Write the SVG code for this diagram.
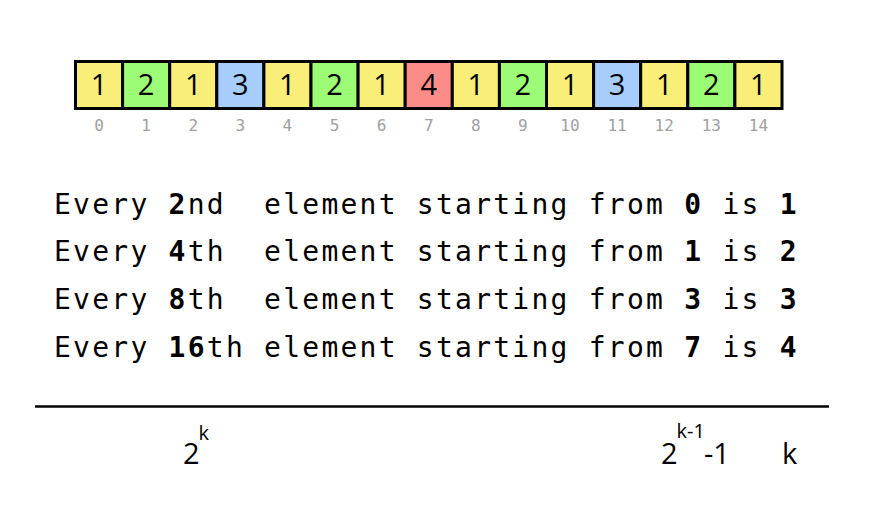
<svg xmlns="http://www.w3.org/2000/svg" width="881" height="519" viewBox="0 0 881 519">
<style>
.c{stroke:#000;stroke-width:3}
.y{fill:#f9ef78}
.g{fill:#9cfc76}
.b{fill:#a6cdfc}
.r{fill:#fc8c8a}
.v{font-family:"Open Sans","Liberation Sans",sans-serif;font-size:29px;text-anchor:middle;fill:#000}
.i{font-family:"DejaVu Sans Mono","Liberation Mono",monospace;font-size:16px;text-anchor:middle;fill:#a0a0a0}
.t{font-family:"DejaVu Sans Mono","Liberation Mono",monospace;font-size:28px;letter-spacing:2.24px;fill:#000;white-space:pre}
.t tspan.bd{font-weight:bold}
.f{font-family:"Open Sans","Liberation Sans",sans-serif;fill:#000}
</style>
<rect width="881" height="519" fill="#fff"/>
<g id="cells">
<g id="cell0"><rect class="c y" x="75.5" y="61.5" width="47.1" height="47"/><text class="v" x="99" y="95">1</text><text class="i" x="99" y="131">0</text></g>
<g id="cell1"><rect class="c g" x="122.6" y="61.5" width="47.1" height="47"/><text class="v" x="146.1" y="95">2</text><text class="i" x="146.1" y="131">1</text></g>
<g id="cell2"><rect class="c y" x="169.7" y="61.5" width="47.1" height="47"/><text class="v" x="193.2" y="95">1</text><text class="i" x="193.2" y="131">2</text></g>
<g id="cell3"><rect class="c b" x="216.8" y="61.5" width="47.1" height="47"/><text class="v" x="240.3" y="95">3</text><text class="i" x="240.3" y="131">3</text></g>
<g id="cell4"><rect class="c y" x="263.9" y="61.5" width="47.1" height="47"/><text class="v" x="287.4" y="95">1</text><text class="i" x="287.4" y="131">4</text></g>
<g id="cell5"><rect class="c g" x="311" y="61.5" width="47.1" height="47"/><text class="v" x="334.5" y="95">2</text><text class="i" x="334.5" y="131">5</text></g>
<g id="cell6"><rect class="c y" x="358.1" y="61.5" width="47.1" height="47"/><text class="v" x="381.6" y="95">1</text><text class="i" x="381.6" y="131">6</text></g>
<g id="cell7"><rect class="c r" x="405.2" y="61.5" width="47.1" height="47"/><text class="v" x="428.7" y="95">4</text><text class="i" x="428.7" y="131">7</text></g>
<g id="cell8"><rect class="c y" x="452.3" y="61.5" width="47.1" height="47"/><text class="v" x="475.8" y="95">1</text><text class="i" x="475.8" y="131">8</text></g>
<g id="cell9"><rect class="c g" x="499.4" y="61.5" width="47.1" height="47"/><text class="v" x="522.9" y="95">2</text><text class="i" x="522.9" y="131">9</text></g>
<g id="cell10"><rect class="c y" x="546.5" y="61.5" width="47.1" height="47"/><text class="v" x="570" y="95">1</text><text class="i" x="570" y="131">10</text></g>
<g id="cell11"><rect class="c b" x="593.6" y="61.5" width="47.1" height="47"/><text class="v" x="617.1" y="95">3</text><text class="i" x="617.1" y="131">11</text></g>
<g id="cell12"><rect class="c y" x="640.7" y="61.5" width="47.1" height="47"/><text class="v" x="664.2" y="95">1</text><text class="i" x="664.2" y="131">12</text></g>
<g id="cell13"><rect class="c g" x="687.8" y="61.5" width="47.1" height="47"/><text class="v" x="711.3" y="95">2</text><text class="i" x="711.3" y="131">13</text></g>
<g id="cell14"><rect class="c y" x="734.9" y="61.5" width="47.1" height="47"/><text class="v" x="758.4" y="95">1</text><text class="i" x="758.4" y="131">14</text></g>
</g>
<g id="connectors"></g>
<g id="lines">
<text class="t" xml:space="preserve" x="54" y="213.5">Every <tspan class="bd">2</tspan>nd  element starting from <tspan class="bd">0</tspan> is <tspan class="bd">1</tspan></text>
<text class="t" xml:space="preserve" x="54" y="261.3">Every <tspan class="bd">4</tspan>th  element starting from <tspan class="bd">1</tspan> is <tspan class="bd">2</tspan></text>
<text class="t" xml:space="preserve" x="54" y="309.1">Every <tspan class="bd">8</tspan>th  element starting from <tspan class="bd">3</tspan> is <tspan class="bd">3</tspan></text>
<text class="t" xml:space="preserve" x="54" y="356.9">Every <tspan class="bd">16</tspan>th element starting from <tspan class="bd">7</tspan> is <tspan class="bd">4</tspan></text>
</g>
<line x1="35" y1="406.5" x2="829" y2="406.5" stroke="#000" stroke-width="2.6"/>
<g id="formulas">
<text class="f" x="183" y="464" font-size="29">2</text>
<text class="f" x="198.5" y="440" font-size="20">k</text>
<text class="f" x="661" y="464" font-size="29">2</text>
<text class="f" x="676.5" y="438" font-size="20">k-1</text>
<text class="f" x="704" y="464" font-size="29">-1</text>
<text class="f" x="782" y="464" font-size="29">k</text>
</g>
</svg>
